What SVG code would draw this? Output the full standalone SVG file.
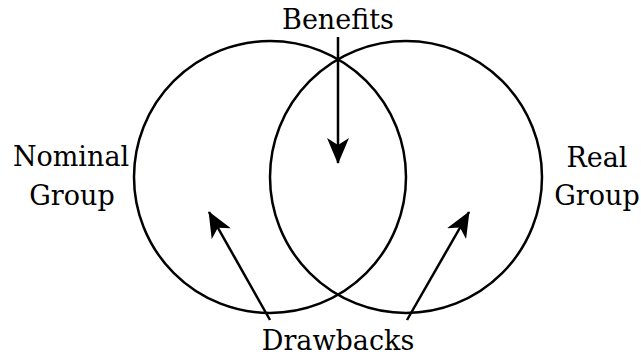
<svg xmlns="http://www.w3.org/2000/svg" width="641" height="360" viewBox="0 0 641 360">
<style>
.c{fill:none;stroke:#000;stroke-width:2.5}
.t{font-family:"DejaVu Serif","Liberation Serif",serif;font-size:27px;fill:#000;text-anchor:middle}
.a{stroke:#000;stroke-width:2.5;fill:none}
</style>
<defs>
<marker id="ah" viewBox="0 0 26 22" refX="25" refY="11" markerWidth="26" markerHeight="22" markerUnits="userSpaceOnUse" orient="auto">
<path d="M0,0 L26,11 L0,22 L7,11 Z" fill="#000"/>
</marker>
</defs>
<rect width="641" height="360" fill="#fff"/>
<g id="nominal-group">
<circle class="c" cx="270" cy="177" r="136"/>
<text class="t" x="71" y="166">Nominal</text>
<text class="t" x="72" y="205">Group</text>
</g>
<g id="real-group">
<circle class="c" cx="406" cy="177" r="136"/>
<text class="t" x="597" y="167">Real</text>
<text class="t" x="597" y="205">Group</text>
</g>
<g id="benefits">
<text class="t" x="338" y="29">Benefits</text>
</g>
<g id="drawbacks">
<text class="t" x="338" y="350">Drawbacks</text>
</g>
<g id="connectors">
<line class="a" x1="338" y1="37" x2="338" y2="163" marker-end="url(#ah)"/>
<line class="a" x1="270" y1="320" x2="209" y2="212" marker-end="url(#ah)"/>
<line class="a" x1="407" y1="320" x2="469" y2="212" marker-end="url(#ah)"/>
</g>
</svg>
